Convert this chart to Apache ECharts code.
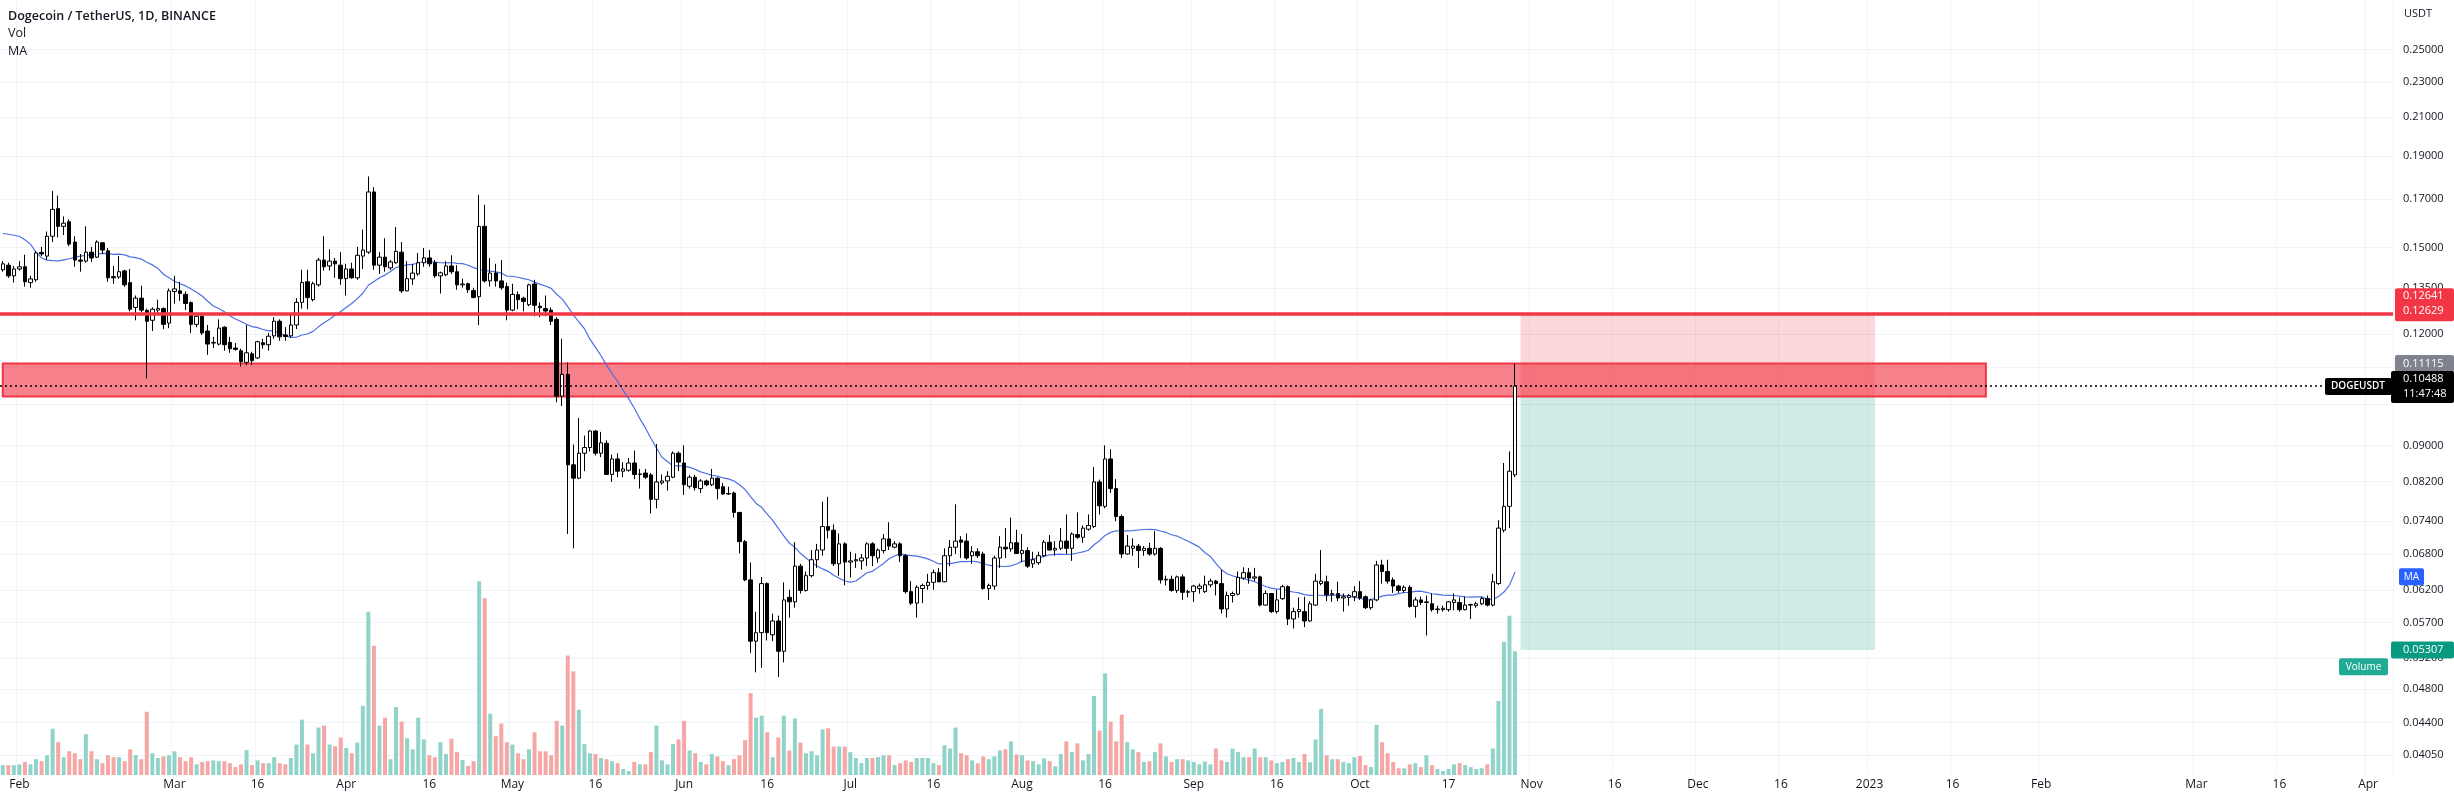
<!DOCTYPE html>
<html><head><meta charset="utf-8">
<script src="https://cdn.jsdelivr.net/npm/echarts@6/dist/echarts.min.js"></script>
<style>html,body{margin:0;padding:0;background:#fff;overflow:hidden}#c{width:2454px;height:803px}</style>
</head><body><div id="c"></div>
<script>
// ---------------- data ----------------
const firstDay = '2022-01-29';      // first candle
const axisDayCount = 432;           // axis runs to 2023-04-05
const opens = [0.1416,0.1433,0.1394,0.1419,0.1427,0.1370,0.1380,0.1481,0.1467,0.1544,0.1658,0.1584,0.1603,0.1521,0.1452,0.1448,0.1482,0.1463,0.1518,0.1487,0.1391,0.1390,0.1412,0.1370,0.1285,0.1316,0.1275,0.1243,0.1276,0.1281,0.1234,0.1339,0.1341,0.1329,0.1301,0.1230,0.1256,0.1209,0.1172,0.1169,0.1221,0.1174,0.1157,0.1149,0.1115,0.1140,0.1128,0.1173,0.1167,0.1194,0.1240,0.1197,0.1194,0.1228,0.1302,0.1373,0.1311,0.1362,0.1452,0.1430,0.1448,0.1433,0.1384,0.1419,0.1387,0.1467,0.1482,0.1731,0.1433,0.1463,0.1423,0.1442,0.1482,0.1341,0.1383,0.1401,0.1442,0.1460,0.1442,0.1394,0.1398,0.1430,0.1409,0.1362,0.1366,0.1342,0.1321,0.1584,0.1376,0.1404,0.1376,0.1356,0.1276,0.1328,0.1316,0.1294,0.1365,0.1289,0.1281,0.1276,0.1246,0.1022,0.1081,0.0856,0.0827,0.0882,0.0895,0.0934,0.0882,0.0905,0.0835,0.0869,0.0842,0.0844,0.0860,0.0835,0.0838,0.0834,0.0783,0.0817,0.0821,0.0829,0.0882,0.0860,0.0810,0.0829,0.0805,0.0821,0.0813,0.0827,0.0809,0.0794,0.0796,0.0757,0.0702,0.0636,0.0543,0.0555,0.0630,0.0552,0.0572,0.0529,0.0608,0.0601,0.0659,0.0619,0.0643,0.0670,0.0687,0.0730,0.0723,0.0663,0.0698,0.0666,0.0668,0.0668,0.0673,0.0698,0.0673,0.0686,0.0707,0.0692,0.0698,0.0677,0.0617,0.0599,0.0622,0.0627,0.0632,0.0648,0.0633,0.0677,0.0692,0.0705,0.0703,0.0677,0.0684,0.0680,0.0622,0.0626,0.0673,0.0692,0.0689,0.0700,0.0681,0.0686,0.0663,0.0665,0.0677,0.0701,0.0687,0.0690,0.0703,0.0690,0.0715,0.0710,0.0725,0.0730,0.0819,0.0769,0.0869,0.0805,0.0749,0.0680,0.0690,0.0694,0.0686,0.0690,0.0680,0.0690,0.0636,0.0637,0.0619,0.0641,0.0616,0.0617,0.0622,0.0617,0.0628,0.0634,0.0630,0.0590,0.0611,0.0613,0.0639,0.0648,0.0639,0.0641,0.0596,0.0614,0.0586,0.0606,0.0625,0.0575,0.0586,0.0586,0.0572,0.0596,0.0630,0.0633,0.0612,0.0614,0.0607,0.0608,0.0609,0.0617,0.0609,0.0592,0.0604,0.0661,0.0650,0.0636,0.0626,0.0619,0.0624,0.0594,0.0604,0.0600,0.0598,0.0589,0.0589,0.0589,0.0600,0.0600,0.0589,0.0596,0.0595,0.0598,0.0606,0.0596,0.0630,0.0723,0.0769,0.0834];
const closes = [0.1438,0.1394,0.1419,0.1427,0.1373,0.1383,0.1479,0.1475,0.1544,0.1655,0.1584,0.1597,0.1513,0.1452,0.1448,0.1482,0.1460,0.1521,0.1490,0.1387,0.1387,0.1409,0.1362,0.1279,0.1316,0.1276,0.1240,0.1279,0.1281,0.1230,0.1341,0.1348,0.1332,0.1298,0.1230,0.1256,0.1203,0.1169,0.1174,0.1218,0.1167,0.1155,0.1153,0.1117,0.1143,0.1120,0.1176,0.1167,0.1193,0.1240,0.1191,0.1192,0.1228,0.1302,0.1370,0.1318,0.1366,0.1452,0.1427,0.1448,0.1438,0.1384,0.1419,0.1387,0.1470,0.1490,0.1731,0.1433,0.1463,0.1427,0.1445,0.1485,0.1341,0.1384,0.1404,0.1442,0.1460,0.1438,0.1394,0.1405,0.1430,0.1409,0.1362,0.1365,0.1345,0.1318,0.1584,0.1376,0.1404,0.1376,0.1352,0.1276,0.1329,0.1311,0.1305,0.1362,0.1292,0.1284,0.1273,0.1240,0.1022,0.1081,0.0856,0.0827,0.0882,0.0895,0.0934,0.0882,0.0906,0.0835,0.0869,0.0842,0.0847,0.0860,0.0835,0.0836,0.0829,0.0783,0.0819,0.0821,0.0831,0.0882,0.0862,0.0813,0.0829,0.0807,0.0821,0.0813,0.0827,0.0805,0.0794,0.0795,0.0757,0.0702,0.0636,0.0543,0.0555,0.0630,0.0555,0.0572,0.0529,0.0604,0.0601,0.0659,0.0619,0.0643,0.0670,0.0687,0.0730,0.0723,0.0663,0.0698,0.0666,0.0668,0.0670,0.0673,0.0698,0.0677,0.0687,0.0707,0.0694,0.0698,0.0677,0.0617,0.0599,0.0624,0.0627,0.0632,0.0648,0.0633,0.0677,0.0692,0.0703,0.0701,0.0673,0.0684,0.0677,0.0622,0.0627,0.0673,0.0692,0.0689,0.0700,0.0681,0.0686,0.0659,0.0670,0.0677,0.0701,0.0687,0.0690,0.0703,0.0690,0.0716,0.0710,0.0727,0.0732,0.0819,0.0770,0.0869,0.0805,0.0749,0.0680,0.0694,0.0694,0.0686,0.0690,0.0680,0.0690,0.0636,0.0637,0.0619,0.0641,0.0616,0.0617,0.0626,0.0626,0.0628,0.0634,0.0630,0.0590,0.0611,0.0614,0.0640,0.0648,0.0639,0.0641,0.0596,0.0614,0.0586,0.0604,0.0625,0.0575,0.0586,0.0589,0.0572,0.0598,0.0634,0.0634,0.0612,0.0614,0.0607,0.0609,0.0611,0.0617,0.0607,0.0592,0.0604,0.0661,0.0650,0.0634,0.0626,0.0619,0.0624,0.0594,0.0604,0.0600,0.0601,0.0589,0.0590,0.0591,0.0601,0.0604,0.0589,0.0596,0.0597,0.0598,0.0606,0.0596,0.0633,0.0727,0.0769,0.0842,0.10488];
const lows = [0.1409,0.1387,0.1370,0.1413,0.1356,0.1352,0.1373,0.1467,0.1452,0.1521,0.1539,0.1549,0.1505,0.1427,0.1409,0.1442,0.1445,0.1460,0.1475,0.1373,0.1366,0.1384,0.1355,0.1272,0.1243,0.1268,0.1070,0.1209,0.1263,0.1215,0.1218,0.1298,0.1307,0.1276,0.1203,0.1221,0.1197,0.1137,0.1157,0.1165,0.1149,0.1143,0.1149,0.1103,0.1107,0.1107,0.1125,0.1155,0.1149,0.1185,0.1179,0.1179,0.1188,0.1215,0.1281,0.1279,0.1305,0.1356,0.1413,0.1413,0.1387,0.1362,0.1325,0.1384,0.1380,0.1419,0.1475,0.1416,0.1401,0.1409,0.1416,0.1438,0.1334,0.1339,0.1362,0.1394,0.1427,0.1427,0.1387,0.1332,0.1393,0.1401,0.1345,0.1352,0.1334,0.1316,0.1228,0.1370,0.1356,0.1356,0.1345,0.1243,0.1272,0.1279,0.1272,0.1289,0.1256,0.1253,0.1256,0.1228,0.1006,0.0996,0.0716,0.0690,0.0825,0.0842,0.0886,0.0877,0.0873,0.0834,0.0819,0.0829,0.0829,0.0841,0.0825,0.0805,0.0825,0.0755,0.0765,0.0813,0.0801,0.0827,0.0842,0.0792,0.0805,0.0801,0.0796,0.0810,0.0810,0.0783,0.0792,0.0792,0.0747,0.0681,0.0634,0.0527,0.0501,0.0507,0.0544,0.0543,0.0495,0.0514,0.0577,0.0592,0.0614,0.0617,0.0640,0.0656,0.0677,0.0708,0.0659,0.0643,0.0627,0.0640,0.0656,0.0653,0.0659,0.0659,0.0665,0.0681,0.0687,0.0690,0.0666,0.0614,0.0596,0.0577,0.0599,0.0620,0.0620,0.0632,0.0632,0.0659,0.0680,0.0673,0.0670,0.0663,0.0673,0.0620,0.0604,0.0620,0.0656,0.0673,0.0684,0.0680,0.0666,0.0656,0.0656,0.0661,0.0675,0.0686,0.0677,0.0687,0.0680,0.0668,0.0707,0.0700,0.0722,0.0727,0.0753,0.0765,0.0796,0.0740,0.0673,0.0679,0.0677,0.0656,0.0677,0.0677,0.0677,0.0630,0.0627,0.0617,0.0615,0.0604,0.0608,0.0601,0.0614,0.0615,0.0624,0.0611,0.0583,0.0577,0.0600,0.0611,0.0636,0.0630,0.0634,0.0594,0.0595,0.0584,0.0583,0.0604,0.0566,0.0561,0.0577,0.0563,0.0571,0.0595,0.0627,0.0602,0.0601,0.0602,0.0586,0.0595,0.0602,0.0604,0.0590,0.0589,0.0602,0.0630,0.0630,0.0615,0.0615,0.0615,0.0592,0.0577,0.0596,0.0551,0.0586,0.0583,0.0586,0.0586,0.0588,0.0586,0.0588,0.0575,0.0592,0.0596,0.0594,0.0594,0.0628,0.0719,0.0727,0.0829];
const highs = [0.1448,0.1442,0.1430,0.1448,0.1472,0.1394,0.1485,0.1502,0.1563,0.1736,0.1715,0.1625,0.1613,0.1544,0.1475,0.1584,0.1502,0.1528,0.1521,0.1498,0.1430,0.1467,0.1416,0.1419,0.1325,0.1359,0.1281,0.1285,0.1311,0.1285,0.1349,0.1394,0.1373,0.1339,0.1305,0.1260,0.1260,0.1228,0.1191,0.1246,0.1224,0.1191,0.1172,0.1155,0.1228,0.1146,0.1179,0.1185,0.1203,0.1253,0.1246,0.1221,0.1263,0.1316,0.1416,0.1416,0.1373,0.1460,0.1544,0.1493,0.1460,0.1482,0.1438,0.1442,0.1502,0.1571,0.1802,0.1753,0.1482,0.1536,0.1452,0.1581,0.1521,0.1448,0.1438,0.1479,0.1498,0.1490,0.1452,0.1409,0.1448,0.1470,0.1433,0.1384,0.1370,0.1352,0.1718,0.1675,0.1460,0.1438,0.1452,0.1370,0.1366,0.1339,0.1321,0.1366,0.1380,0.1302,0.1325,0.1285,0.1253,0.1185,0.1115,0.0902,0.0966,0.0923,0.0936,0.0936,0.0932,0.0912,0.0879,0.0882,0.0862,0.0871,0.0888,0.0847,0.0847,0.0838,0.0903,0.0835,0.0842,0.0886,0.0886,0.0900,0.0834,0.0834,0.0825,0.0824,0.0847,0.0829,0.0817,0.0809,0.0799,0.0758,0.0705,0.0665,0.0586,0.0641,0.0632,0.0583,0.0580,0.0632,0.0620,0.0701,0.0663,0.0650,0.0687,0.0698,0.0778,0.0788,0.0734,0.0717,0.0701,0.0684,0.0681,0.0680,0.0701,0.0701,0.0690,0.0716,0.0738,0.0703,0.0701,0.0680,0.0634,0.0627,0.0630,0.0646,0.0653,0.0656,0.0690,0.0705,0.0773,0.0712,0.0717,0.0694,0.0690,0.0684,0.0630,0.0677,0.0712,0.0727,0.0747,0.0724,0.0716,0.0692,0.0684,0.0684,0.0705,0.0714,0.0703,0.0727,0.0753,0.0719,0.0757,0.0732,0.0753,0.0851,0.0824,0.0900,0.0891,0.0825,0.0753,0.0714,0.0708,0.0698,0.0694,0.0700,0.0721,0.0692,0.0643,0.0643,0.0643,0.0645,0.0620,0.0628,0.0630,0.0643,0.0638,0.0636,0.0653,0.0617,0.0617,0.0650,0.0657,0.0656,0.0656,0.0643,0.0619,0.0615,0.0620,0.0628,0.0627,0.0592,0.0608,0.0609,0.0602,0.0646,0.0687,0.0643,0.0620,0.0633,0.0614,0.0613,0.0626,0.0634,0.0611,0.0606,0.0668,0.0670,0.0670,0.0640,0.0628,0.0627,0.0627,0.0608,0.0609,0.0611,0.0614,0.0595,0.0595,0.0602,0.0614,0.0608,0.0609,0.0598,0.0601,0.0609,0.0611,0.0646,0.0742,0.0860,0.0886,0.11115];
// daily volume, millions of DOGE
const volumes = [1000,1000,1000,1080,1320,1080,1600,1400,2000,4680,3320,1800,2400,2200,1600,4120,2400,1600,1200,2000,1800,1800,1400,2600,2000,1600,6400,2200,1720,1880,2000,2400,1800,1400,1800,1080,1320,1400,1480,1400,1400,1200,800,1080,2520,1000,1480,1200,1200,1800,1200,1080,1720,3080,5600,3080,2200,4800,5000,3080,2920,3800,2720,2200,3280,7000,16520,13080,5000,5800,1600,6880,5400,3720,2600,5800,3600,2000,1800,3320,2120,3680,2320,1520,920,1400,19600,17880,6200,3920,5200,3320,3080,2200,1600,2600,4320,2400,2400,2000,5480,5000,12080,10480,6600,3120,2200,2120,1720,1600,1400,1200,600,400,1320,1080,1080,2320,5000,1480,1080,3120,3600,5480,2480,2200,1320,1080,2120,1880,1400,1000,1600,2000,3520,8280,5800,6000,4320,1800,3800,6000,2480,5720,3280,2200,2400,2000,4600,4720,2880,2880,2880,2320,1720,1200,1720,1720,1800,2000,2000,1000,1200,1480,1320,1720,1720,1720,1200,1000,3000,2680,4800,2200,2000,1480,1200,1880,1600,1880,2480,2600,3400,2080,2000,1480,1400,1080,1680,1400,880,2120,3400,2320,3200,1480,2120,8000,4480,10280,5400,3400,6120,3320,2600,2320,1320,1400,2320,3200,1880,1320,1600,1600,1480,1320,1080,1360,1080,2680,1480,1320,2680,2320,1800,1800,2680,1800,1800,1480,1200,1320,1600,1720,1320,2120,1280,3600,6680,2000,1600,1600,1320,1200,1800,1920,1000,800,5080,3320,2200,1320,680,680,1080,1200,800,2000,1000,600,400,600,1080,1200,1000,800,600,680,1080,2680,7480,13480,16120,12520];
// MA(20) of close for the first days, whose window starts before the chart
const maHead = [0.1555,0.1552,0.1548,0.1544,0.1530,0.1513,0.1482,0.1460,0.1452,0.1450,0.1449,0.1453,0.1457,0.1462,0.1467,0.1470,0.1472,0.1475,0.1477];
const maLength = 20;
const priceTicks = [0.25,0.23,0.21,0.19,0.17,0.15,0.135,0.12,0.09,0.082,0.074,0.068,0.062,0.057,0.052,0.048,0.044,0.0405];
const unlabeledGridPrices = [0.11,0.10];
const timeTickDates = ['2022-02-01','2022-03-01','2022-03-16','2022-04-01','2022-04-16','2022-05-01','2022-05-16','2022-06-01','2022-06-16','2022-07-01','2022-07-16','2022-08-01','2022-08-16','2022-09-01','2022-09-16','2022-10-01','2022-10-17','2022-11-01','2022-11-16','2022-12-01','2022-12-16','2023-01-01','2023-01-16','2023-02-01','2023-03-01','2023-03-16','2023-04-01'];
const timeTickTexts = ['Feb','Mar','16','Apr','16','May','16','Jun','16','Jul','16','Aug','16','Sep','16','Oct','17','Nov','16','Dec','16','2023','16','Feb','Mar','16','Apr'];
const resistancePrice = 0.12629;
const zoneTop = 0.11115, zoneBottom = 0.1021, zoneEnd = '2023-01-22';
const lastPrice = 0.10488, countdown = '11:47:48', symbol = 'DOGEUSDT';
const longStart = '2022-10-30', longEnd = '2023-01-02';
const longEntry = 0.1021, longTarget = 0.12641, longStop = 0.05307;
const priceMin = 0.03844, priceMax = 0.2841;
const volumeAxisMax = 78400;

// ---------------- chart ----------------
const FONT = "'Open Sans', 'Noto Sans', sans-serif";
const TEXT = '#131722';
const dayMs = 86400000;
const t0 = Date.parse(firstDay + 'T00:00:00Z');
const categories = [];
for (let i = 0; i < axisDayCount; i++) categories.push(new Date(t0 + i * dayMs).toISOString().slice(0, 10));
const tickMap = {};
timeTickDates.forEach((d, k) => { tickMap[d] = timeTickTexts[k]; });
const isTick = (idx, val) => Object.prototype.hasOwnProperty.call(tickMap, val);

const candles = opens.map((o, i) => [o, closes[i], lows[i], highs[i]]);
const ma = closes.map((c, i) => {
  if (i < maHead.length) return maHead[i];
  let s = 0; for (let k = i - maLength + 1; k <= i; k++) s += closes[k];
  return +(s / maLength).toFixed(5);
});
const volData = volumes.map((v, i) => ({
  value: v,
  itemStyle: { color: closes[i] >= opens[i] ? '#8fd3c9' : '#f5a7a5' }
}));

const gridMarks = priceTicks.map(p => ({ yAxis: p }))
  .concat(unlabeledGridPrices.map(p => ({ yAxis: p })));

const chart = echarts.init(document.getElementById('c'), null, { renderer: 'canvas' });
const option = {
  animation: false,
  backgroundColor: '#ffffff',
  textStyle: { fontFamily: FONT },
  grid: { left: 0, right: 61, top: 0, bottom: 28, containLabel: false },
  xAxis: {
    type: 'category', data: categories, boundaryGap: true,
    axisLine: { show: false }, axisTick: { show: false },
    axisLabel: { interval: isTick, formatter: v => tickMap[v] || '', color: TEXT, fontSize: 12, fontFamily: FONT, margin: 4 },
    splitLine: { show: true, interval: isTick, lineStyle: { color: '#f0f3fa', width: 1 } }
  },
  yAxis: [
    { type: 'log', logBase: 10, min: priceMin, max: priceMax, position: 'right',
      axisLine: { show: false }, axisTick: { show: false }, axisLabel: { show: false }, splitLine: { show: false } },
    { type: 'value', min: 0, max: volumeAxisMax, show: false, position: 'right' }
  ],
  series: [
    { name: 'Vol', type: 'bar', xAxisIndex: 0, yAxisIndex: 1, data: volData, barWidth: 4, z: 1, silent: true },
    { name: 'MA', type: 'line', yAxisIndex: 0, data: ma, showSymbol: false, symbol: 'none', smooth: false, z: 2, silent: true,
      lineStyle: { color: '#4c6fe6', width: 1.2 },
      markLine: { silent: true, z: 0, precision: 6, symbol: ['none', 'none'], animation: false,
        lineStyle: { color: '#eff2f7', width: 1, type: 'solid' },
        label: { show: false },
        data: gridMarks } },
    { name: 'DOGEUSDT', type: 'candlestick', yAxisIndex: 0, data: candles, barWidth: 4, z: 3, silent: true,
      itemStyle: { color: '#ffffff', color0: '#000000', borderColor: '#000000', borderColor0: '#000000', borderWidth: 1 },
      markArea: { silent: true, z: 1, label: { show: false },
        data: [
          [{ xAxis: longStart, yAxis: longTarget, itemStyle: { color: 'rgba(242,54,69,0.2)', borderWidth: 0 } }, { xAxis: longEnd, yAxis: longEntry }],
          [{ xAxis: longStart, yAxis: longEntry, itemStyle: { color: 'rgba(8,153,129,0.2)', borderWidth: 0 } }, { xAxis: longEnd, yAxis: longStop }],
          [{ xAxis: categories[0], yAxis: zoneTop, itemStyle: { color: 'rgba(242,54,69,0.62)', borderColor: '#f23645', borderWidth: 2 } }, { xAxis: zoneEnd, yAxis: zoneBottom }]
        ] },
      markLine: { silent: true, z: 5, precision: 6, symbol: ['none', 'none'], animation: false, label: { show: false },
        data: [
          { yAxis: resistancePrice, lineStyle: { color: '#f23645', width: 3.5, type: 'solid' } },
          { yAxis: lastPrice, lineStyle: { color: '#000000', width: 1.5, type: [2, 3] } }
        ] } }
  ]
};
chart.setOption(option);

// price-scale labels and badges, placed through the axes
const yP = p => chart.convertToPixel({ yAxisIndex: 0 }, p);
const yV = v => chart.convertToPixel({ yAxisIndex: 1 }, v);
const AXL = 2393, W = 2454;
const txt = (x, y, s, fill, font, align, z) => ({ type: 'text', z: z || 101, x: x, y: y,
  style: { text: s, fill: fill, font: font || ('11px ' + FONT), textAlign: align || 'left', textVerticalAlign: 'middle' } });
const rect = (x, y, w, h, fill) => ({ type: 'rect', z: 100, shape: { x: x, y: y, width: w, height: h, r: 2 }, style: { fill: fill } });

const yRes = yP(resistancePrice), yZone = yP(zoneTop), yLast = yP(lastPrice), yStop = yP(longStop);
const yMA = yP(ma[ma.length - 1]);
const yVol = yV(volumes[volumes.length - 1]);
const g = priceTicks.map(p => txt(2403, yP(p), p.toFixed(5), TEXT, '11px ' + FONT, 'left', 50));
g.push(
  txt(8, 16, 'Dogecoin / TetherUS, 1D, BINANCE', TEXT, '600 12.5px ' + FONT),
  txt(8, 33, 'Vol', TEXT, '12.5px ' + FONT),
  txt(8, 51, 'MA', TEXT, '12.5px ' + FONT),
  txt(2404, 14, 'USDT', TEXT, '11px ' + FONT),
  rect(AXL + 2, yRes - 26, W - AXL - 2, 33, '#f23645'),
  txt(2403, yRes - 18, longTarget.toFixed(5), '#ffffff'),
  txt(2403, yRes - 3, resistancePrice.toFixed(5), '#ffffff'),
  rect(AXL + 2, yZone - 8.5, W - AXL - 2, 17, '#80838d'),
  txt(2403, yZone, zoneTop.toFixed(5), '#ffffff'),
  rect(AXL - 2, yLast - 15, W - AXL + 2, 32, '#000000'),
  txt(2403, yLast - 7, lastPrice.toFixed(5), '#ffffff'),
  txt(2403, yLast + 8, countdown, '#ffffff'),
  rect(2325, yLast - 8, 67, 17, '#000000'),
  txt(2358, yLast + 0.5, symbol, '#ffffff', '600 10px ' + FONT, 'center'),
  rect(2399, yMA - 4, 25, 17, '#2962ff'),
  txt(2411.5, yMA + 4.5, 'MA', '#ffffff', '10px ' + FONT, 'center'),
  rect(AXL - 2, yStop - 8.5, W - AXL + 2, 17, '#089981'),
  txt(2403, yStop, longStop.toFixed(5), '#ffffff'),
  rect(2339, yVol + 7, 49, 17, '#22ab94'),
  txt(2363.5, yVol + 15.5, 'Volume', '#ffffff', '10px ' + FONT, 'center')
);
chart.setOption({ graphic: { elements: g } });
</script>
</body></html>
